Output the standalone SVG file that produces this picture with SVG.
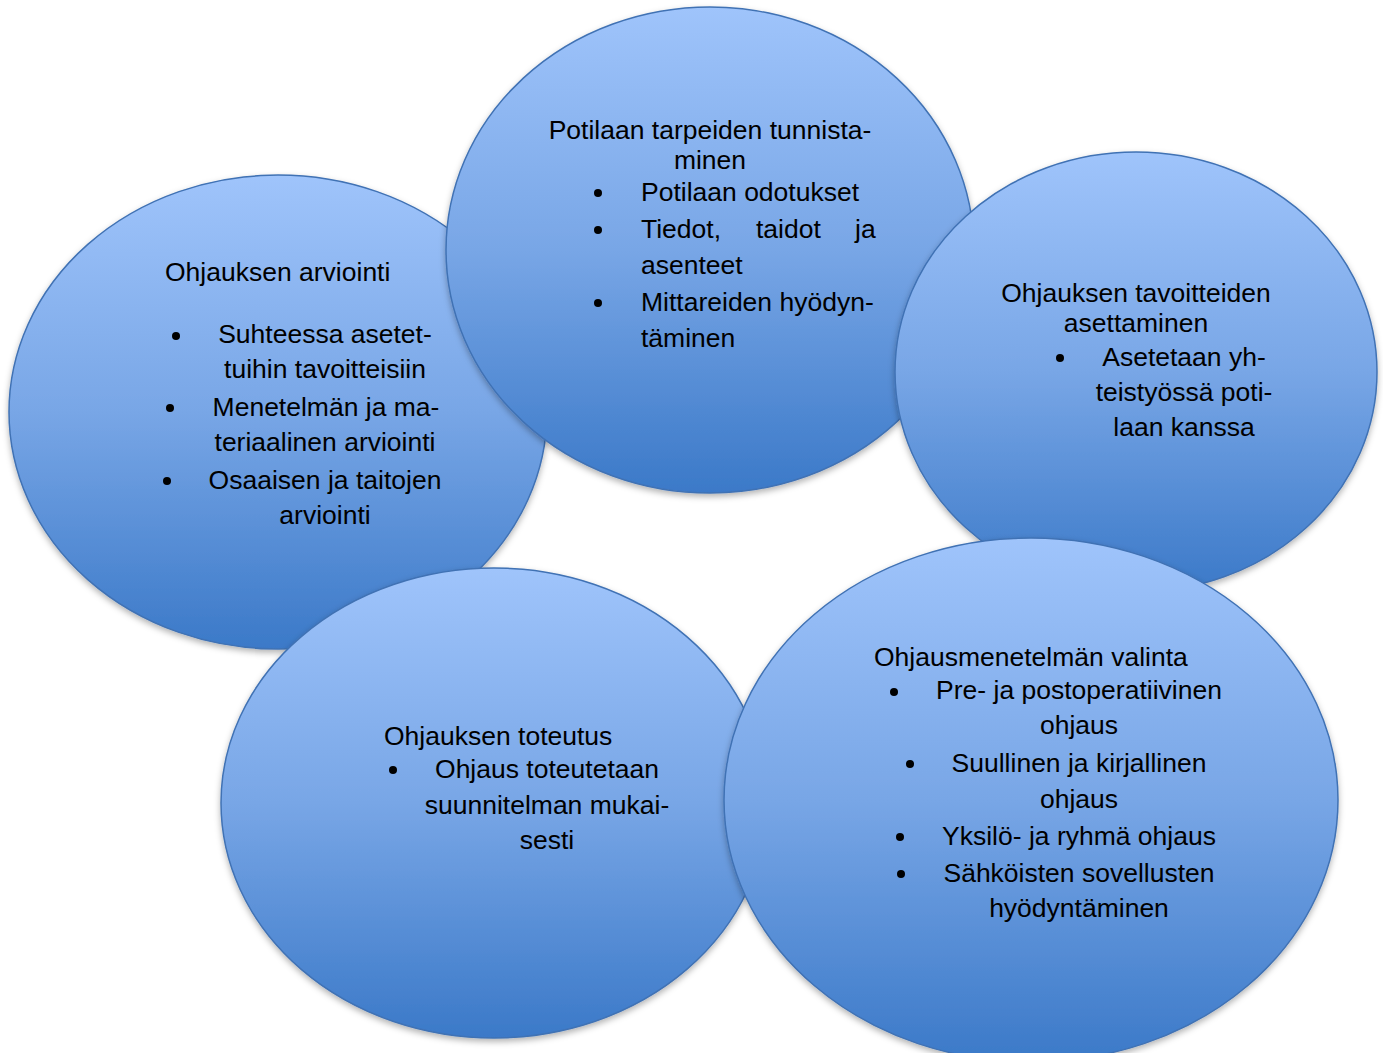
<svg xmlns="http://www.w3.org/2000/svg" width="1383" height="1053" viewBox="0 0 1383 1053">
<defs>
<linearGradient id="blue" x1="0" y1="0" x2="0" y2="1">
<stop offset="0" stop-color="#9fc4fb"/>
<stop offset="0.5" stop-color="#78a6e6"/>
<stop offset="1" stop-color="#3b79c8"/>
</linearGradient>
<filter id="sh" x="-10%" y="-10%" width="120%" height="125%">
<feDropShadow dx="0" dy="3" stdDeviation="3" flood-color="#000" flood-opacity="0.3"/>
</filter>
</defs>
<style>
.node ellipse{fill:url(#blue);stroke:#4072b4;stroke-width:1.5;filter:url(#sh)}
text{font-family:"Liberation Sans",Arial,sans-serif;font-size:26.5px;fill:#000}
.c{text-anchor:middle}
.b{fill:#000}
</style>
<rect width="1383" height="1053" fill="#fff"/>
<g id="connectors"/>
<g id="node-arviointi" class="node">
<ellipse cx="278" cy="412" rx="269" ry="237"/>
<text x="165" y="281">Ohjauksen arviointi</text>
<circle class="b" cx="176" cy="336" r="4"/>
<text class="c" x="325" y="343">Suhteessa asetet-</text>
<text class="c" x="325" y="378">tuihin tavoitteisiin</text>
<circle class="b" cx="170" cy="408" r="4"/>
<text class="c" x="326" y="416">Menetelmän ja ma-</text>
<text class="c" x="325" y="451">teriaalinen arviointi</text>
<circle class="b" cx="167" cy="481" r="4"/>
<text class="c" x="325" y="489">Osaaisen ja taitojen</text>
<text class="c" x="325" y="524">arviointi</text>
</g>
<g id="node-tarpeet" class="node">
<ellipse cx="710" cy="250" rx="264" ry="243"/>
<text class="c" x="710" y="139">Potilaan tarpeiden tunnista-</text>
<text class="c" x="710" y="169">minen</text>
<circle class="b" cx="598" cy="193" r="4"/>
<text x="641" y="201">Potilaan odotukset</text>
<circle class="b" cx="598" cy="230" r="4"/>
<text x="641" y="238">Tiedot,</text>
<text x="756" y="238">taidot</text>
<text x="855" y="238">ja</text>
<text x="641" y="274">asenteet</text>
<circle class="b" cx="598" cy="303" r="4"/>
<text x="641" y="311">Mittareiden hyödyn-</text>
<text x="641" y="347">täminen</text>
</g>
<g id="node-tavoitteet" class="node">
<ellipse cx="1136" cy="372" rx="241" ry="220"/>
<text class="c" x="1136" y="302">Ohjauksen tavoitteiden</text>
<text class="c" x="1136" y="332">asettaminen</text>
<circle class="b" cx="1060" cy="358" r="4"/>
<text class="c" x="1184" y="366">Asetetaan yh-</text>
<text class="c" x="1184" y="401">teistyössä poti-</text>
<text class="c" x="1184" y="436">laan kanssa</text>
</g>
<g id="node-toteutus" class="node">
<ellipse cx="494" cy="803" rx="273" ry="235"/>
<text x="384" y="745">Ohjauksen toteutus</text>
<circle class="b" cx="393" cy="770" r="4"/>
<text class="c" x="547" y="778">Ohjaus toteutetaan</text>
<text class="c" x="547" y="814">suunnitelman mukai-</text>
<text class="c" x="547" y="849">sesti</text>
</g>
<g id="node-menetelma" class="node">
<ellipse cx="1031" cy="800" rx="307" ry="262"/>
<text x="874" y="666">Ohjausmenetelmän valinta</text>
<circle class="b" cx="894" cy="692" r="4"/>
<text class="c" x="1079" y="699">Pre- ja postoperatiivinen</text>
<text class="c" x="1079" y="734">ohjaus</text>
<circle class="b" cx="910" cy="764" r="4"/>
<text class="c" x="1079" y="772">Suullinen ja kirjallinen</text>
<text class="c" x="1079" y="808">ohjaus</text>
<circle class="b" cx="900" cy="837" r="4"/>
<text class="c" x="1079" y="845">Yksilö- ja ryhmä ohjaus</text>
<circle class="b" cx="901" cy="874" r="4"/>
<text class="c" x="1079" y="882">Sähköisten sovellusten</text>
<text class="c" x="1079" y="917">hyödyntäminen</text>
</g>
</svg>
